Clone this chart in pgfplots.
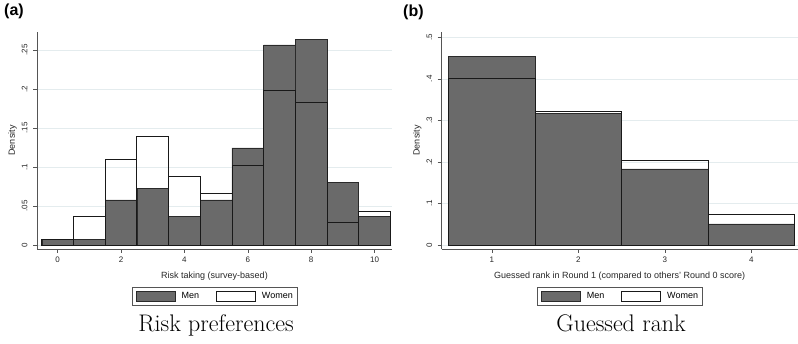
\documentclass[border=0pt]{standalone}
\usepackage{fontspec}
\setsansfont{Liberation Sans}
\usepackage{pgfplots}
\pgfplotsset{compat=1.18}
\definecolor{mengray}{HTML}{6A6A6A}
\definecolor{gridc}{HTML}{E4ECEE}
\definecolor{edge}{HTML}{2A2A2A}
\definecolor{axc}{HTML}{555555}

\pgfplotsset{stata/.style={
  scale only axis, height=217pt,
  axis x line*=bottom, axis y line*=left,
  axis line style={draw=axc, line width=0.6pt, -},
  tick align=outside, major tick length=4pt,
  tick style={draw=axc, line width=0.5pt},
  ymajorgrids, grid style={draw=gridc, line width=0.6pt},
  /pgf/number format/assume math mode=true,
  tick label style={font=\sffamily\fontsize{8}{9}\selectfont, text=black!85},
  yticklabel style={xshift=-2pt, rotate=90, anchor=south},
  label style={font=\sffamily\fontsize{9}{10}\selectfont, text=black!85},
  every axis y label/.style={at={(axis description cs:0,0.5)}, xshift=-24.5pt, rotate=90, anchor=center,
    font=\sffamily\fontsize{9}{10}\selectfont, text=black!85},
  xlabel style={at={(axis description cs:0.5,0)}, anchor=north, inner sep=0pt, yshift=-22.5pt},
  legend columns=2,
  legend style={font=\sffamily\fontsize{9}{10}\selectfont, draw=axc, line width=0.5pt,
    at={(0.5,0)}, anchor=north, yshift=-38pt, inner xsep=4pt, inner ysep=3pt,
    nodes={inner xsep=0pt},
    /tikz/every even column/.append style={column sep=17pt}},
}}

\begin{document}
\begin{tikzpicture}
\path[use as bounding box] (0pt,0pt) rectangle (798pt,-344pt);

\begin{axis}[stata, at={(37pt,-249pt)}, anchor=south west, width=355pt,
  xmin=-0.65, xmax=10.55, ymin=-0.005, ymax=0.273,
  xtick={0,2,4,6,8,10},
  ytick={0,0.05,0.1,0.15,0.2,0.25},
  yticklabels={0,.05,.1,.15,.2,.25},
  xlabel={Risk taking (survey-based)}, ylabel={Density}]
\addplot[ybar interval, fill=mengray, draw=edge, line width=0.5pt,
  legend image code/.code={\draw[fill=mengray, draw=edge, line width=0.5pt] (0pt,-5pt) rectangle (39pt,5pt); \path (45pt,0pt);}]
  coordinates {(-0.5,0.007) (0.5,0.007) (1.5,0.058) (2.5,0.073) (3.5,0.037) (4.5,0.058)
               (5.5,0.1246) (6.5,0.2564) (7.5,0.2636) (8.5,0.0805) (9.5,0.037) (10.5,0)};
\addlegendentry{Men}
\addplot[ybar interval, fill=none, draw=black!90, line width=0.8pt,
  legend image code/.code={\draw[fill=white, draw=black!90, line width=0.8pt] (0pt,-5pt) rectangle (39pt,5pt); \path (45pt,0pt);}]
  coordinates {(-0.5,0.007) (0.5,0.037) (1.5,0.110) (2.5,0.139) (3.5,0.088) (4.5,0.0665)
               (5.5,0.1025) (6.5,0.198) (7.5,0.183) (8.5,0.0297) (9.5,0.0436) (10.5,0)};
\addlegendentry{Women}
\end{axis}

\begin{axis}[stata, at={(441.7pt,-249pt)}, anchor=south west, width=356pt,
  xmin=0.419, xmax=4.535, ymin=-0.0096, ymax=0.5128,
  xtick={1,2,3,4},
  ytick={0,0.1,0.2,0.3,0.4,0.5},
  yticklabels={0,.1,.2,.3,.4,.5},
  xlabel={Guessed rank in Round 1 (compared to others' Round 0 score)}, ylabel={Density}]
\addplot[ybar interval, fill=mengray, draw=edge, line width=0.5pt,
  legend image code/.code={\draw[fill=mengray, draw=edge, line width=0.5pt] (0pt,-5pt) rectangle (39pt,5pt); \path (45pt,0pt);}]
  coordinates {(0.5,0.454) (1.5,0.316) (2.5,0.183) (3.5,0.051) (4.5,0)};
\addlegendentry{Men}
\addplot[ybar interval, fill=none, draw=black!90, line width=0.8pt,
  legend image code/.code={\draw[fill=white, draw=black!90, line width=0.8pt] (0pt,-5pt) rectangle (39pt,5pt); \path (45pt,0pt);}]
  coordinates {(0.5,0.402) (1.5,0.322) (2.5,0.204) (3.5,0.074) (4.5,0)};
\addlegendentry{Women}
\end{axis}

\node[anchor=north west, inner sep=0pt, font=\sffamily\bfseries\fontsize{16}{18}\selectfont] at (4pt,-4pt) {(a)};
\node[anchor=north west, inner sep=0pt, font=\sffamily\bfseries\fontsize{16}{18}\selectfont] at (403pt,-5pt) {(b)};
\node[anchor=base, inner sep=0pt, font=\fontsize{24}{28}\selectfont] at (216pt,-332pt) {Risk preferences};
\node[anchor=base, inner sep=0pt, font=\fontsize{24}{28}\selectfont] at (621pt,-332pt) {Guessed rank};
\end{tikzpicture}
\end{document}
